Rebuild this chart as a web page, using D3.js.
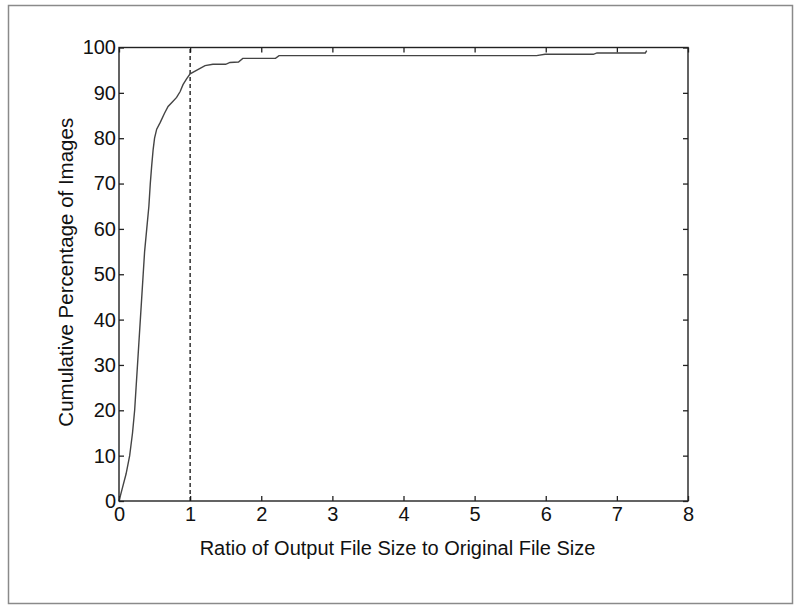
<!DOCTYPE html>
<html>
<head>
<meta charset="utf-8">
<script src="https://cdn.jsdelivr.net/npm/d3@7"></script>
<style>
  body { margin: 0; background: #fff; }
  text { font-family: Arial, "Liberation Sans", sans-serif; }
</style>
</head>
<body>
<svg width="797" height="608"></svg>
<script>
// ratio of output size to original size vs cumulative % of images
var ratio = [0, 0.05, 0.1, 0.15, 0.19, 0.22, 0.24, 0.26, 0.28, 0.30, 0.32, 0.34, 0.36, 0.39, 0.42,
    0.44, 0.46, 0.48, 0.50, 0.53, 0.58, 0.64, 0.69, 0.75, 0.81, 0.86, 0.90, 0.95, 1.0, 1.07,
    1.14, 1.21, 1.32, 1.5, 1.56, 1.68, 1.74, 2.2, 2.25, 5.87, 5.99, 6.67, 6.72, 7.4, 7.42];
var cumPct = [0, 3, 6, 10, 15, 20, 25, 30, 35, 40, 45, 50, 55, 60, 65,
    70, 74, 77.5, 80, 82, 83.5, 85.5, 87, 88, 89, 90.3, 91.8, 93.1, 94.2, 94.8,
    95.4, 96, 96.3, 96.3, 96.7, 96.8, 97.6, 97.6, 98.2, 98.2, 98.5, 98.5, 98.8, 98.8, 99.3];
var xTicks = [0, 1, 2, 3, 4, 5, 6, 7, 8];
var yTicks = [0, 10, 20, 30, 40, 50, 60, 70, 80, 90, 100];
var threshold = 1;

var svg = d3.select("svg"),
    width = +svg.attr("width"),
    height = +svg.attr("height");

var margin = {left: 119, top: 47.5, right: 797 - 688, bottom: 608 - 501};
var w = width - margin.left - margin.right,
    h = height - margin.top - margin.bottom;

// outer frame of the figure
svg.append("rect")
    .attr("x", 8.5).attr("y", 5.5)
    .attr("width", 784).attr("height", 598)
    .attr("fill", "none")
    .attr("stroke", "#8a8a8a")
    .attr("stroke-width", 1.5);

var g = svg.append("g")
    .attr("transform", "translate(" + margin.left + "," + margin.top + ")");

var x = d3.scaleLinear().domain([0, 8]).range([0, w]);
var y = d3.scaleLinear().domain([0, 100]).range([h, 0]);

function styleAxis(sel) {
    sel.select(".domain").remove();
    sel.selectAll(".tick line").attr("stroke", "#222").attr("stroke-width", 1.3);
    sel.selectAll(".tick text")
        .attr("fill", "#111")
        .style("font-size", "20px");
}

g.append("g")
    .attr("transform", "translate(0," + h + ")")
    .call(d3.axisBottom(x).tickValues(xTicks).tickFormat(d3.format("d"))
        .tickSizeInner(-5).tickSizeOuter(0).tickPadding(6))
    .call(styleAxis);

g.append("g")
    .call(d3.axisLeft(y).tickValues(yTicks).tickFormat(d3.format("d"))
        .tickSizeInner(-5).tickSizeOuter(0).tickPadding(3))
    .call(styleAxis);

g.append("g")
    .call(d3.axisTop(x).tickValues(xTicks).tickFormat("")
        .tickSizeInner(-5).tickSizeOuter(0))
    .call(styleAxis);

g.append("g")
    .attr("transform", "translate(" + w + ",0)")
    .call(d3.axisRight(y).tickValues(yTicks).tickFormat("")
        .tickSizeInner(-5).tickSizeOuter(0))
    .call(styleAxis);

// dashed threshold line at ratio = 1
g.append("line")
    .attr("x1", x(threshold)).attr("x2", x(threshold))
    .attr("y1", y(0)).attr("y2", y(100))
    .attr("stroke", "#111")
    .attr("stroke-width", 1.3)
    .attr("stroke-dasharray", "4,3");

var pts = ratio.map(function(d, i) { return [d, cumPct[i]]; });

g.append("path")
    .datum(pts)
    .attr("fill", "none")
    .attr("stroke", "#444")
    .attr("stroke-width", 1.4)
    .attr("d", d3.line()
        .x(function(d) { return x(d[0]); })
        .y(function(d) { return y(d[1]); }));

// plot box
g.append("rect")
    .attr("width", w).attr("height", h)
    .attr("fill", "none")
    .attr("stroke", "#222")
    .attr("stroke-width", 1.4);

svg.append("text")
    .attr("x", margin.left + w / 2 - 6)
    .attr("y", 555)
    .attr("text-anchor", "middle")
    .attr("fill", "#111")
    .style("font-size", "20px")
    .text("Ratio of Output File Size to Original File Size");

svg.append("text")
    .attr("transform", "translate(73," + (margin.top + h / 2 - 2) + ") rotate(-90)")
    .attr("text-anchor", "middle")
    .attr("fill", "#111")
    .style("font-size", "20.5px")
    .text("Cumulative Percentage of Images");
</script>
</body>
</html>
